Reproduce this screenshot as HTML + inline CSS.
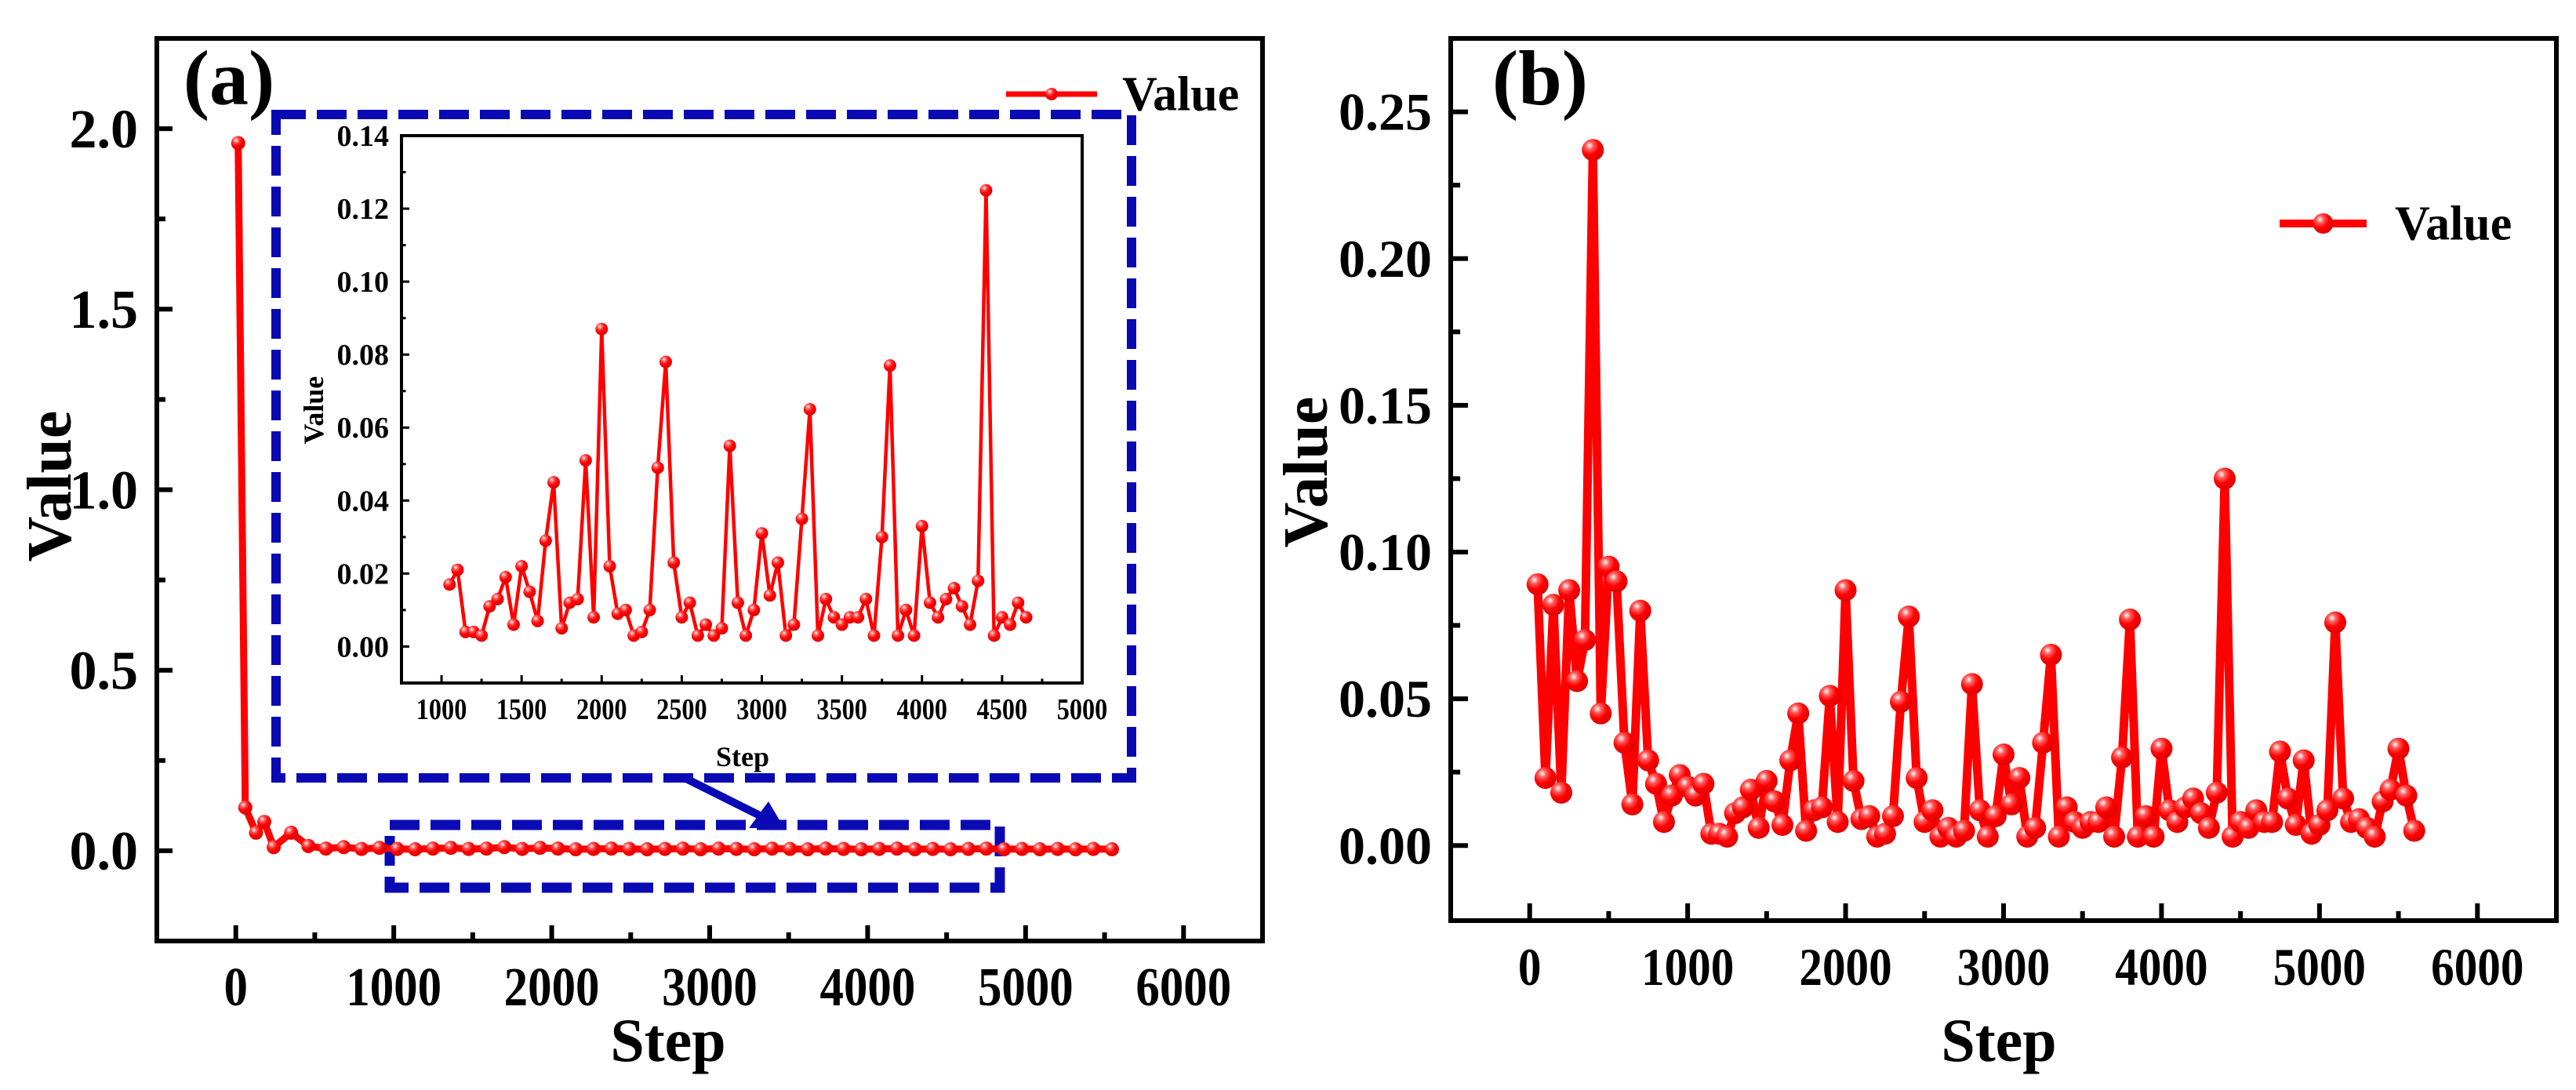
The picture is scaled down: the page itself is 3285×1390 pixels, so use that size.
<!DOCTYPE html>
<html><head><meta charset="utf-8">
<style>
html,body{margin:0;padding:0;background:#fff;}
svg{display:block;font-family:"Liberation Serif",serif;font-weight:bold;}
</style></head>
<body>
<svg id="fig" width="3285" height="1390" viewBox="0 0 3285 1390" xmlns="http://www.w3.org/2000/svg">
<defs>
<radialGradient id="ball" cx="0.35" cy="0.3" r="0.7">
<stop offset="0" stop-color="#ffffff"/><stop offset="0.25" stop-color="#ff6060"/><stop offset="0.6" stop-color="#ff0000"/><stop offset="1" stop-color="#e00000"/>
</radialGradient>
</defs>
</svg>
<script>
// Panel (b) and inset data (step, value)
const bSteps = [50,100,150,200,250,300,350,400,450,500,550,600,650,700,750,800,850,900,950,1000,1050,1100,1150,1200,1250,1300,1350,1400,1450,1500,1550,1600,1650,1700,1750,1800,1850,1900,1950,2000,2050,2100,2150,2200,2250,2300,2350,2400,2450,2500,2550,2600,2650,2700,2750,2800,2850,2900,2950,3000,3050,3100,3150,3200,3250,3300,3350,3400,3450,3500,3550,3600,3650,3700,3750,3800,3850,3900,3950,4000,4050,4100,4150,4200,4250,4300,4350,4400,4450,4500,4550,4600,4650,4700,4750,4800,4850,4900,4950,5000,5050,5100,5150,5200,5250,5300,5350,5400,5450,5500,5550,5600];
const bValues = [0.089,0.023,0.082,0.018,0.087,0.056,0.070,0.237,0.045,0.095,0.090,0.035,0.014,0.080,0.029,0.021,0.008,0.017,0.024,0.020,0.017,0.021,0.004,0.004,0.003,0.011,0.013,0.019,0.006,0.022,0.015,0.007,0.029,0.045,0.005,0.012,0.013,0.051,0.008,0.087,0.022,0.009,0.010,0.003,0.004,0.010,0.049,0.078,0.023,0.008,0.012,0.003,0.006,0.003,0.005,0.055,0.012,0.003,0.010,0.031,0.014,0.023,0.003,0.006,0.035,0.065,0.003,0.013,0.008,0.006,0.008,0.008,0.013,0.003,0.030,0.077,0.003,0.010,0.003,0.033,0.012,0.008,0.013,0.016,0.011,0.006,0.018,0.125,0.003,0.008,0.006,0.012,0.008,0.008,0.032,0.016,0.007,0.029,0.004,0.007,0.012,0.076,0.016,0.008,0.009,0.006,0.003,0.015,0.019,0.033,0.017,0.005];
// Panel (a) main series
const aSteps = [15,60,128,180,240,350,460,570,683,796,909,1022,1135,1248,1361,1474,1587,1700,1813,1926,2039,2152,2265,2378,2491,2604,2717,2830,2943,3056,3169,3282,3395,3508,3621,3734,3847,3960,4073,4186,4299,4412,4525,4638,4751,4864,4977,5090,5203,5316,5429,5547];
const aValues = [1.96,0.12,0.05,0.08,0.01,0.05,0.013,0.006,0.010,0.005,0.008,0.005,0.004,0.006,0.008,0.005,0.006,0.010,0.005,0.008,0.006,0.004,0.005,0.006,0.005,0.004,0.005,0.006,0.004,0.006,0.005,0.004,0.006,0.005,0.004,0.006,0.005,0.004,0.005,0.006,0.004,0.005,0.004,0.005,0.006,0.004,0.005,0.004,0.005,0.004,0.005,0.004];
// Inset range
const insetStart = 1050, insetEnd = 4650;
// Tick labels
const aXTicks = [0,1000,2000,3000,4000,5000,6000];
const aYTicks = [0.0,0.5,1.0,1.5,2.0];
const bXTicks = [0,1000,2000,3000,4000,5000,6000];
const bYTicks = [0.00,0.05,0.10,0.15,0.20,0.25];
const iXTicks = [1000,1500,2000,2500,3000,3500,4000,4500,5000];
const iYTicks = [0.00,0.02,0.04,0.06,0.08,0.10,0.12,0.14];

const NS='http://www.w3.org/2000/svg';
const svg=document.getElementById('fig');
function el(tag,attrs,parent,text){const e=document.createElementNS(NS,tag);for(const k in attrs)e.setAttribute(k,attrs[k]);if(text!==undefined)e.textContent=text;(parent||svg).appendChild(e);return e;}
function lin(d0,d1,r0,r1){return v=>r0+(v-d0)*(r1-r0)/(d1-d0);}

function axes(p){
  const g=el('g',{});
  
  
  p.xt.forEach(v=>{
    const x=p.x(v);
    const t=el('line',{x1:x,x2:x,y1:p.b,y2:p.b-p.tl,stroke:'#000','stroke-width':p.tw},g);
    
    const lb=el('text',{x:x,y:p.b+p.xlo,'text-anchor':'middle','font-size':p.fs,transform:`translate(${x} 0) scale(${p.sx} 1) translate(${-x} 0)`},g,String(v));
    
  });
  for(let i=0;i<p.xt.length-1;i++){const x=p.x((p.xt[i]+p.xt[i+1])/2);el('line',{x1:x,x2:x,y1:p.b,y2:p.b-p.tl*0.55,stroke:'#000','stroke-width':p.tw},g);}
  p.yt.forEach(v=>{
    const y=p.y(v);
    const t=el('line',{x1:p.l,x2:p.l+p.tl,y1:y,y2:y,stroke:'#000','stroke-width':p.tw},g);
    
    const lb=el('text',{x:p.l-p.ylo,y:y+p.fs*0.34,'text-anchor':'end','font-size':p.fs},g,v.toFixed(p.dec));
    
  });
  for(let i=0;i<p.yt.length-1;i++){const y=p.y((p.yt[i]+p.yt[i+1])/2);el('line',{x1:p.l,x2:p.l+p.tl*0.55,y1:y,y2:y,stroke:'#000','stroke-width':p.tw},g);}
  const f=el('rect',{x:p.l,y:p.t,width:p.r-p.l,height:p.b-p.t,fill:'none',stroke:'#000','stroke-width':p.fw},g);
  
}
function series(name,xs,ys,x,y,lw,mr){
  const g=el('g',{});
  
  
  const pts=xs.map((s,i)=>x(s)+','+y(ys[i])).join(' ');
  const pl=el('polyline',{points:pts,fill:'none',stroke:'#ff0000','stroke-width':lw,'stroke-linejoin':'round'},g);
  
  xs.forEach((s,i)=>{
    const c=el('circle',{cx:x(s),cy:y(ys[i]),r:mr,fill:'url(#ball)'},g);
    
  });
}
function legend(name,x1,x2,y,tx,fs,lw,mr){
  const g=el('g',{});
  
  
  el('line',{x1:x1,x2:x2,y1:y,y2:y,stroke:'#ff0000','stroke-width':lw},g);
  el('circle',{cx:(x1+x2)/2,cy:y,r:mr,fill:'url(#ball)'},g);
  const t=el('text',{x:tx,y:y+fs*0.33,'font-size':fs},g,'Value');
  
}
function title(name,x,y,txt,fs,rot){
  const t=el('text',{x:x,y:y,'text-anchor':'middle','font-size':fs,transform:rot?`rotate(-90 ${x} ${y})`:''},svg,txt);
  
}

// ---- Panel (a)
const A={name:'panel-a',l:200,r:1610,t:49,b:1200};
A.x=lin(-500,6500,A.l,A.r);A.y=lin(-0.25,2.25,A.b,A.t);
const big=el('rect',{x:352,y:146,width:1091,height:846,fill:'none',stroke:'#0a0ab4','stroke-width':12,'stroke-dasharray':'38 14'});

const small=el('rect',{x:497,y:1052,width:778,height:80,fill:'none',stroke:'#0a0ab4','stroke-width':13,'stroke-dasharray':'38 14'});

const ar=el('g',{});

el('line',{x1:873,y1:992,x2:975,y2:1043,stroke:'#0a0ab4','stroke-width':10},ar);
el('polygon',{points:'1000,1056 955,1056 980,1022',fill:'#0a0ab4'},ar);
axes({...A,xt:aXTicks,yt:aYTicks,tl:20,tw:6,fw:6,fs:70,sx:0.87,xlo:82,ylo:24,dec:1});
series('panel-a-series',aSteps,aValues,A.x,A.y,9,9);
legend('panel-a-legend',1283,1399,120,1431,62,7,8);
title('panel-a-label',292,133,'(a)',100,false);
title('panel-a-x-title',852,1353,'Step',78,false);
title('panel-a-y-title',90,620,'Value',80,true);

// Inset
const I={name:'inset',l:512,r:1380,t:173,b:871};
I.x=lin(750,5000,I.l,I.r);I.y=lin(-0.01,0.14,I.b,I.t);
el('rect',{x:I.l,y:I.t,width:I.r-I.l,height:I.b-I.t,fill:'#fff'});
const iS=[],iV=[];
bSteps.forEach((s,i)=>{if(s>=insetStart&&s<=insetEnd){iS.push(s);iV.push(bValues[i]);}});
axes({...I,xt:iXTicks,yt:iYTicks,tl:10,tw:3,fw:4,fs:38,sx:0.85,xlo:46,ylo:16,dec:2});
series('inset-series',iS,iV,I.x,I.y,4.5,8);
title('inset-x-title',947,977,'Step',36,false);
title('inset-y-title',412,523,'Value',36,true);

// ---- Panel (b)
const B={name:'panel-b',l:1850,r:3260,t:49,b:1174};
B.x=lin(-500,6500,B.l,B.r);B.y=lin(-0.0256,0.275,B.b,B.t);
axes({...B,xt:bXTicks,yt:bYTicks,tl:22,tw:6,fw:6,fs:68,sx:0.87,xlo:82,ylo:24,dec:2});
series('panel-b-series',bSteps,bValues,B.x,B.y,11,14);
legend('panel-b-legend',2907,3018,285,3054,62,10,13);
title('panel-b-label',1964,133,'(b)',100,false);
title('panel-b-x-title',2549,1353,'Step',78,false);
title('panel-b-y-title',1692,602,'Value',80,true);
</script>
</body></html>
